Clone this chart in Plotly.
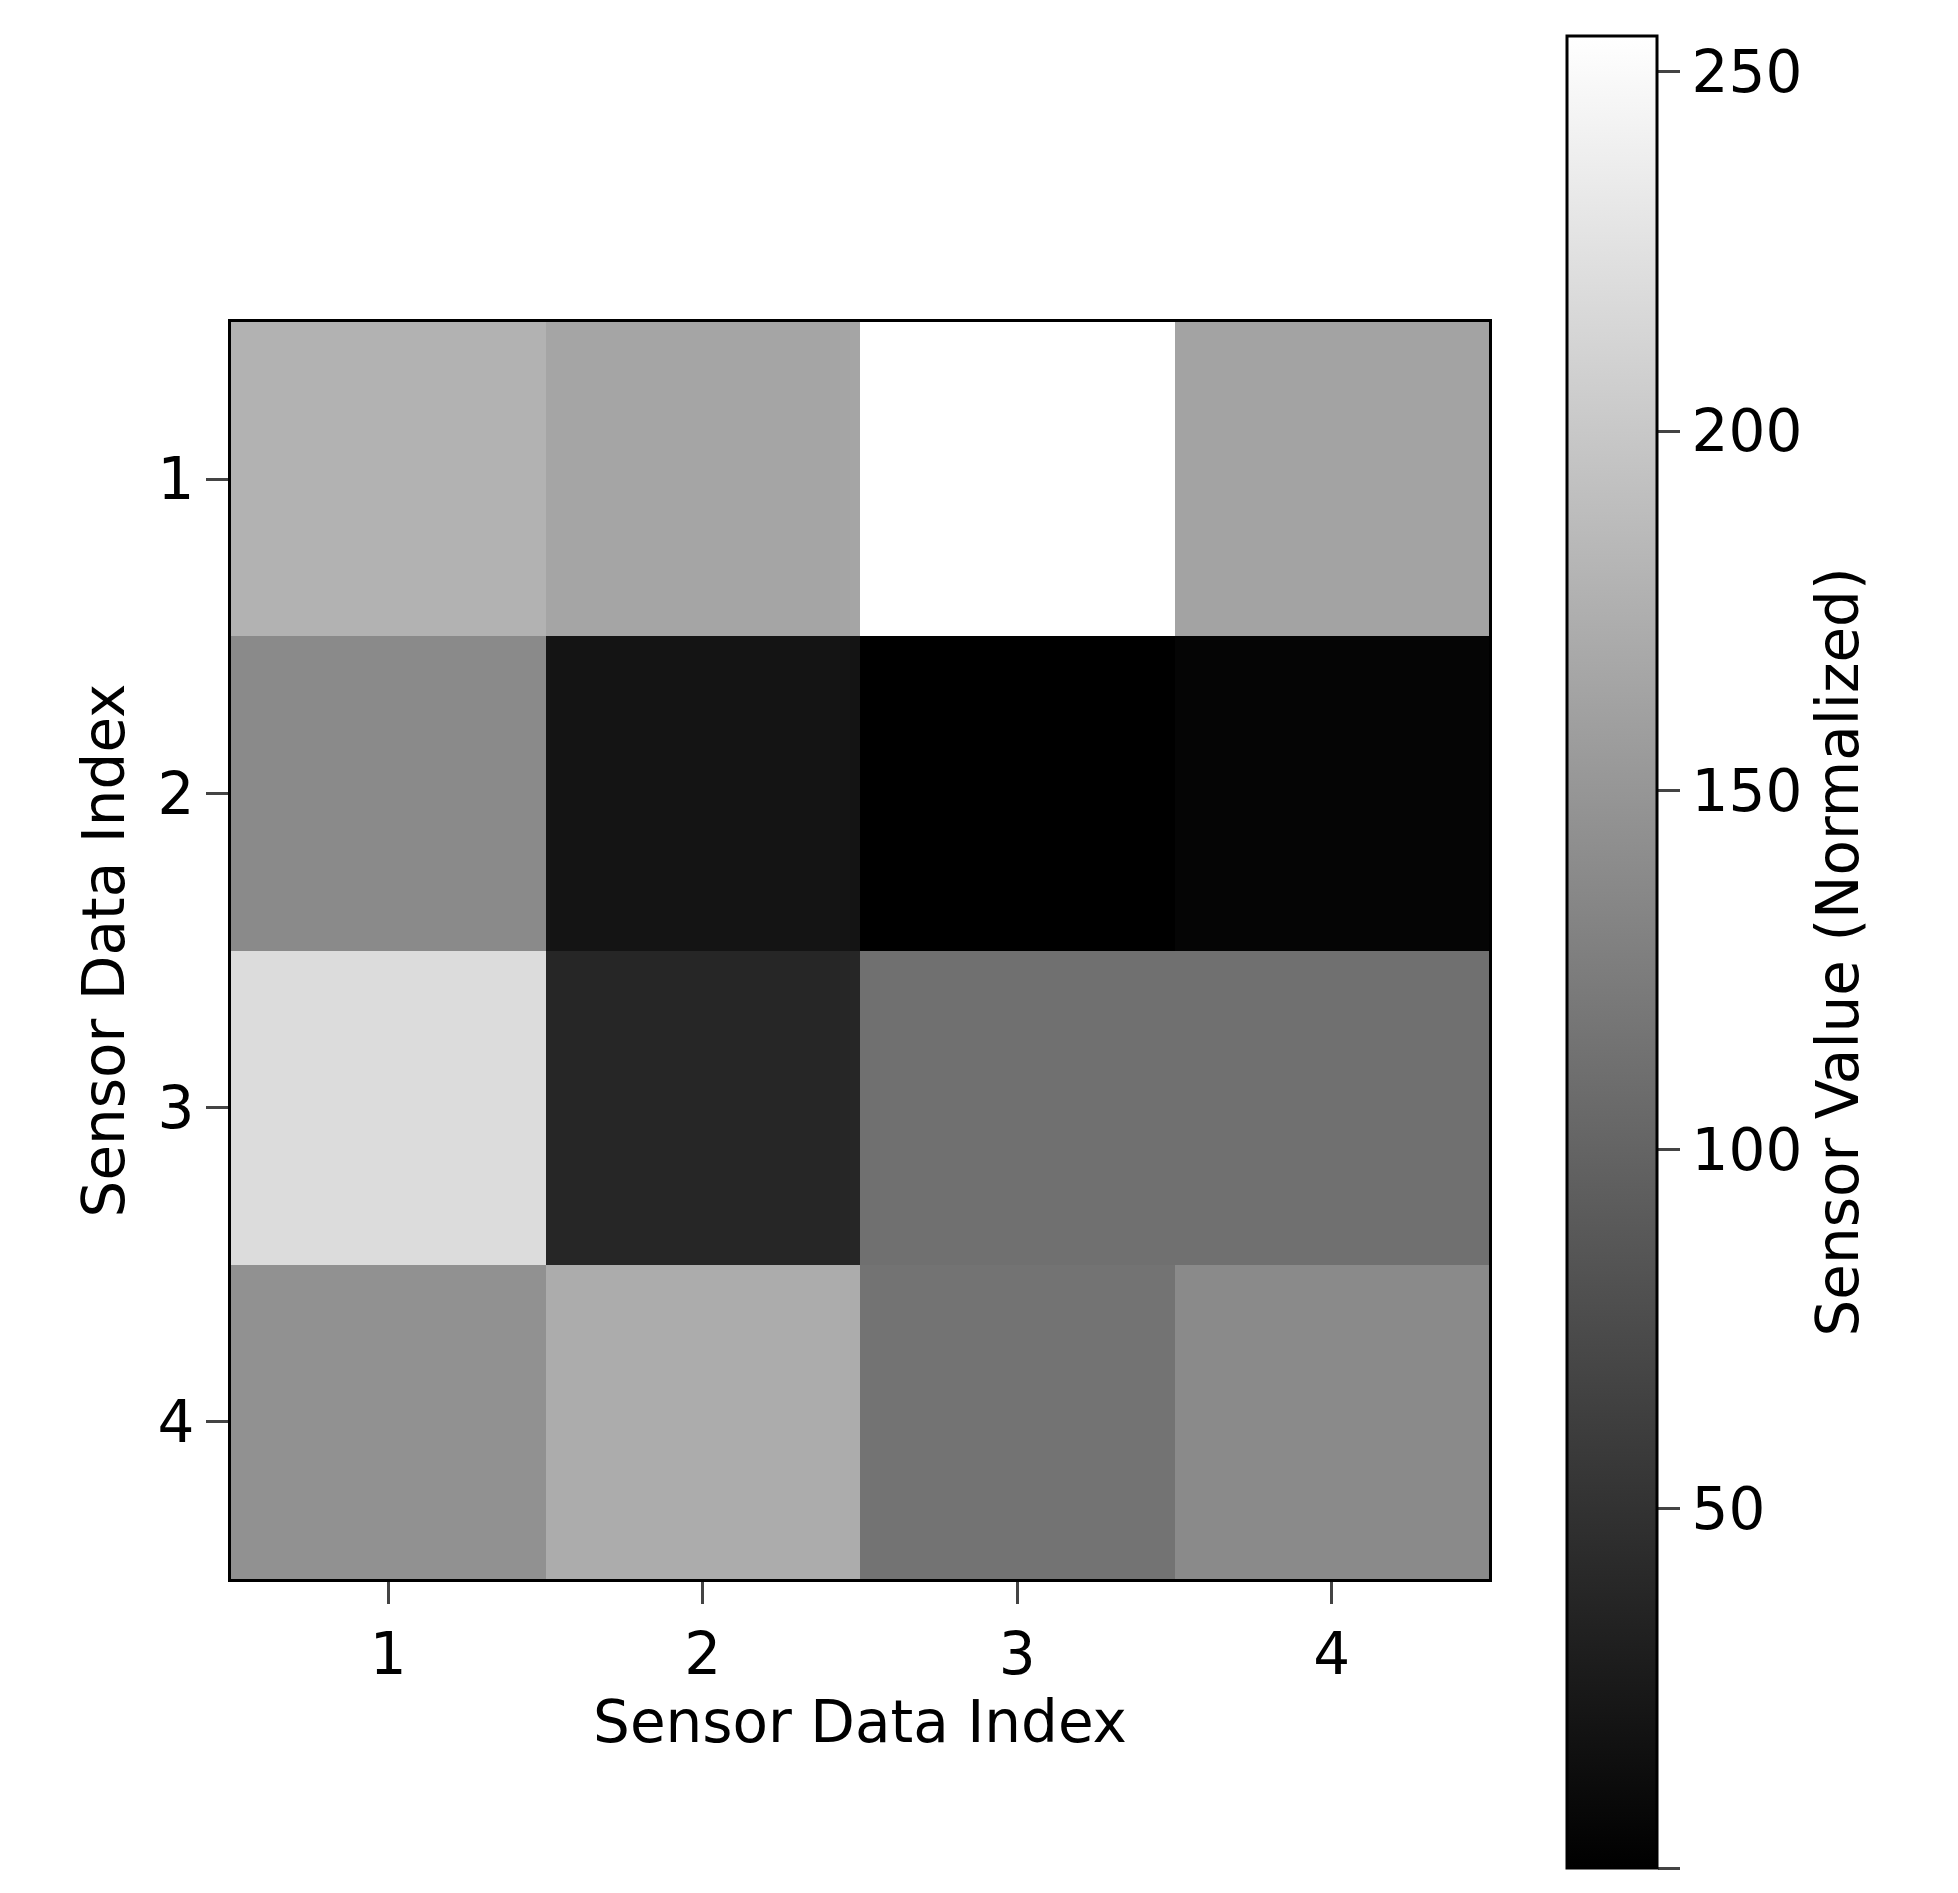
import plotly.graph_objects as go

x_labels = [1, 2, 3, 4]
y_labels = [1, 2, 3, 4]
values = [
    [178, 165, 255, 163],
    [138, 20, 0, 5],
    [220, 38, 112, 112],
    [145, 172, 115, 138],
]

W, H = 1958, 1893
L, R, T, B = 223, 1481, 314, 1571
ph = B - T
fig = go.Figure(go.Heatmap(
    z=values, x=x_labels, y=y_labels,
    colorscale=[[0, "black"], [1, "white"]], zmin=0, zmax=255,
    colorbar=dict(
        title=dict(text="Sensor Value (Normalized)", side="right", font=dict(size=58)),
        tickvals=[0, 50, 100, 150, 200, 250], ticks="outside", ticklen=22, tickwidth=3,
        tickfont=dict(size=58), outlinewidth=3, outlinecolor="black",
        thickness=90, thicknessmode="pixels",
        len=(1860 - 28) / ph, lenmode="fraction",
        x=(1559 - L) / (R - L), xanchor="left", xpad=0, ypad=0,
        y=(B - 28) / ph, yanchor="top",
    ),
))
fig.update_layout(
    width=W, height=H, paper_bgcolor="white", plot_bgcolor="white",
    font=dict(family="DejaVu Sans", color="black", size=58),
    margin=dict(l=L, r=W - R, t=T, b=H - B),
)
axis = dict(tickvals=[1, 2, 3, 4], ticks="outside", ticklen=22, tickwidth=3,
            showline=True, linewidth=3, linecolor="black", mirror=True,
            showgrid=False, zeroline=False, tickfont=dict(size=58),
            title=dict(text="Sensor Data Index", font=dict(size=58)))
fig.update_xaxes(**axis, range=[0.5, 4.5])
fig.update_yaxes(**axis, range=[4.5, 0.5])
fig.write_html("out.html")
